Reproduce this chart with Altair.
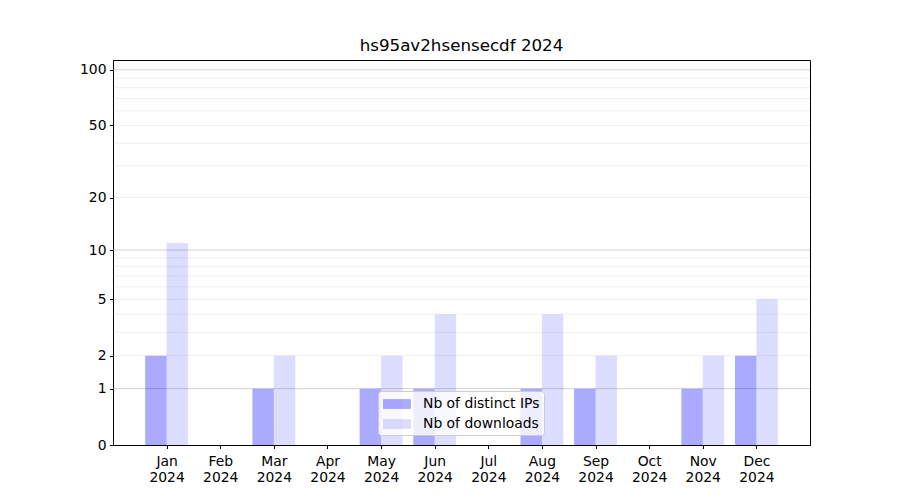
import json
import altair as alt
import pandas as pd

months = ["Jan", "Feb", "Mar", "Apr", "May", "Jun", "Jul", "Aug", "Sep", "Oct", "Nov", "Dec"]
year = "2024"
distinct_ips = [2, 0, 1, 0, 1, 1, 0, 1, 1, 0, 1, 2]
downloads = [11, 0, 2, 0, 2, 4, 0, 4, 2, 0, 2, 5]
series_names = ["Nb of distinct IPs", "Nb of downloads"]
y_ticks = [0, 1, 2, 5, 10, 20, 50, 100]
major_grid = [1, 10, 100]
minor_grid = [2, 3, 4, 5, 6, 7, 8, 9, 20, 30, 40, 50, 60, 70, 80, 90]

rows = []
for i, m in enumerate(months):
    rows.append({"idx": i, "month": m, "series": series_names[0], "value": distinct_ips[i], "side": -1})
    rows.append({"idx": i, "month": m, "series": series_names[1], "value": downloads[i], "side": 0})
df = pd.DataFrame(rows)

FONT = "DejaVu Sans"
yscale = alt.Scale(type="symlog", constant=1, domain=[0, 113], nice=False, zero=False, padding=0)
xscale = alt.Scale(domain=[-1, 12], nice=False, zero=False, padding=0)

label_expr = "[" + json.dumps(months) + "[datum.value], " + json.dumps(year) + "]"

bars = alt.Chart(df).transform_filter("datum.value > 0").transform_calculate(
    x0="datum.idx + datum.side * 0.4",
    x1="datum.idx + datum.side * 0.4 + 0.4",
).mark_rect(strokeWidth=0).encode(
    x=alt.X("x0:Q", scale=xscale, title=None,
            axis=alt.Axis(values=list(range(12)), labelExpr=label_expr, grid=False,
                          tickSize=3.5, tickColor="black", domainColor="black",
                          labelColor="black", labelFontSize=13.9, labelFont=FONT,
                          labelPadding=6, labelLineHeight=15.7, labelBaseline="top")),
    x2="x1:Q",
    y=alt.Y("value:Q", scale=yscale, title=None,
            axis=alt.Axis(values=y_ticks, grid=False, tickSize=3.5, tickColor="black",
                          domainColor="black", labelColor="black", labelFontSize=13.9,
                          labelFont=FONT, labelPadding=3.5)),
    y2=alt.datum(0),
    color=alt.Color("series:N",
                    scale=alt.Scale(domain=series_names,
                                    range=["rgba(0,0,255,0.333)", "rgba(0,0,255,0.133)"]),
                    legend=alt.Legend(title=None, orient="none", legendX=265, legendY=331,
                                      fillColor="rgba(255,255,255,0.8)", strokeColor="#cccccc",
                                      cornerRadius=3, padding=4,
                                      labelFontSize=13.9, labelFont=FONT, labelColor="black",
                                      symbolType="M-1.555,-0.544L1.555,-0.544L1.555,0.544L-1.555,0.544Z",
                                      symbolSize=324, symbolStrokeWidth=0, symbolOffset=6,
                                      rowPadding=4, labelOffset=17)),
)

major = alt.Chart(pd.DataFrame({"v": major_grid})).mark_rule(color="#b0b0b0", strokeWidth=0.8, opacity=0.7).encode(
    y=alt.Y("v:Q", scale=yscale)
)
minor = alt.Chart(pd.DataFrame({"v": minor_grid})).mark_rule(color="#b0b0b0", strokeWidth=0.8, opacity=0.25).encode(
    y=alt.Y("v:Q", scale=yscale)
)

chart = alt.layer(minor, major, bars).properties(
    width=697, height=385,
    autosize=alt.AutoSizeParams(type="none"),
    padding={"left": 105, "top": 52, "right": 80, "bottom": 40},
    title=alt.Title("hs95av2hsensecdf 2024", font=FONT, fontSize=16.7, fontWeight="normal",
                    color="black", anchor="middle", offset=5),
).configure_view(stroke="black", strokeWidth=1).configure_axis(labelFont=FONT)

chart.save("out.html", embed_options={"renderer": "svg", "actions": False})
